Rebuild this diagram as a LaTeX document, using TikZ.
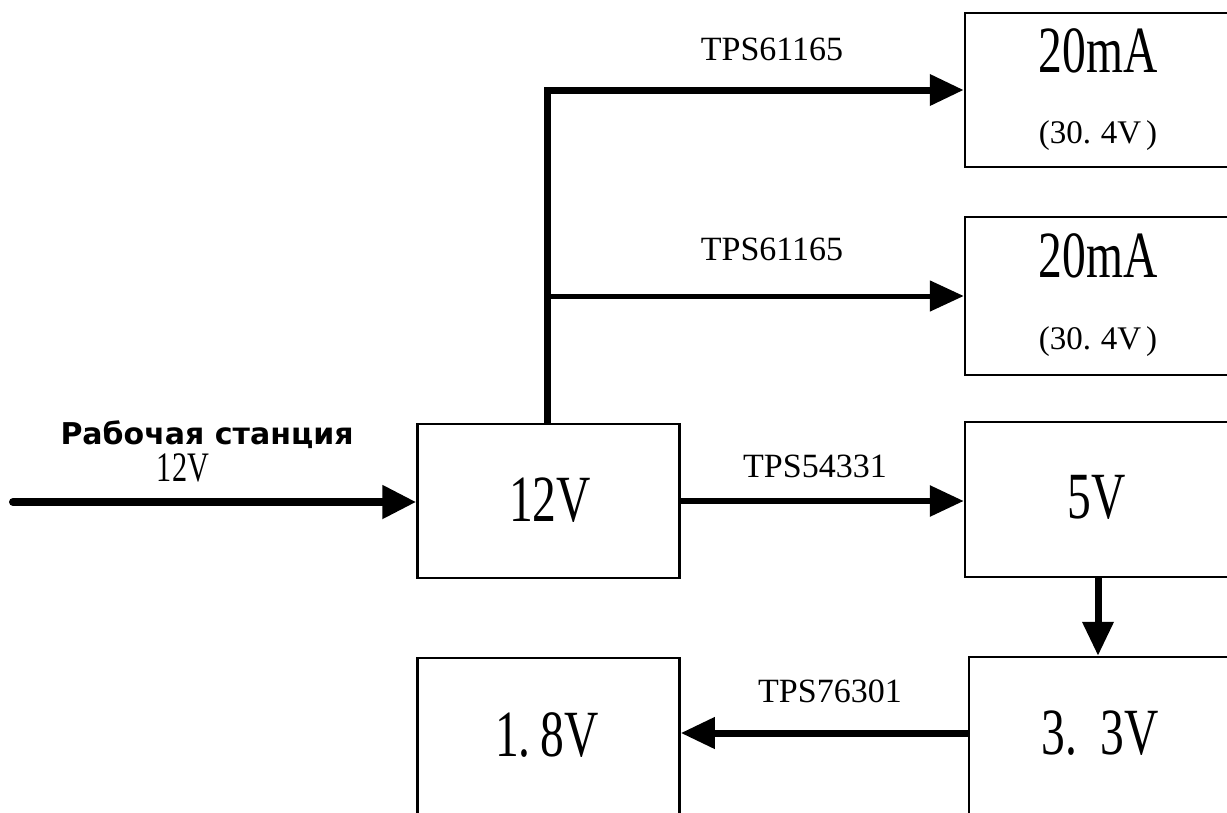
\documentclass[tikz,border=0pt]{standalone}
\usepackage{fontspec}
\setmainfont{Liberation Serif}
\newfontfamily\boxfont[FakeStretch=0.72]{Liberation Serif}
\newfontfamily\stationfont{DejaVu Sans}
\usetikzlibrary{arrows.meta}

\begin{document}
\begin{tikzpicture}[x=1pt,y=-1pt,
  block/.style={draw,line width=2.5pt,minimum width=262pt,minimum height=154pt,inner sep=0pt},
  big/.style={font=\boxfont\fontsize{66}{66}\selectfont,inner sep=0pt},
  feed/.style={line width=7pt,-{Triangle[length=34pt,width=30pt]}},
  chip/.style={font=\fontsize{34}{34}\selectfont,inner sep=0pt}]
\useasboundingbox (0,0) rectangle (1227,812);
\clip (0,0) rectangle (1227,812);

% blocks
\node[block] (v12) at (548.5,501) {};
\node[big] (v12t) at (550,500) {12V};
\node[block,minimum width=266pt] (ma1) at (1098,90) {};
\node[big] (ma1a) at ([yshift=39pt]ma1.center) {20mA};
\node[font=\fontsize{33}{33}\selectfont] (ma1b) at ([yshift=-46pt]ma1.center) {(30.\hspace{0.3em}4V\hspace{0.15em})};
\node[block,minimum width=266pt,minimum height=158pt] (ma2) at (1098,296) {};
\node[big] (ma2a) at ([yshift=40pt]ma2.center) {20mA};
\node[font=\fontsize{33}{33}\selectfont] (ma2b) at ([yshift=-46pt]ma2.center) {(30.\hspace{0.3em}4V\hspace{0.15em})};
\node[block,minimum width=266pt,minimum height=155pt] (v5) at (1098,499.5) {};
\node[big] (v5t) at (1097,497) {5V};
\node[block,minimum height=176pt] (v33) at (1100,745) {};
\node[big] (v33t) at (1100,733) {3.\hspace{0.35em}3V};
\node[block,minimum height=176pt] (v18) at (548.5,746) {};
\node[big] (v18t) at (547,735) {1.\hspace{0.15em}8V};

% input
\coordinate (src) at (13,502);
\node[font=\stationfont\bfseries\fontsize{30}{30}\selectfont,inner sep=0pt] (ws) at (207,435) {Рабочая станция};
\node[font=\boxfont\fontsize{42}{42}\selectfont,inner sep=0pt] (ws12) at (183,468) {12V};
\draw[line width=8pt,line cap=round,-{Triangle[length=34pt,width=32pt]}] (src) -- (src -| v12.west);

% converters
\coordinate (trunk) at ([xshift=-1.5pt]v12.north);
\draw[feed] (trunk) |- (ma1.west);
\draw[feed,line width=5pt] (trunk |- ma2.west) -- (ma2.west);
\draw[feed,line width=6pt] (v12.east) -- (v12.east -| v5.west);
\draw[feed] (v5.south) -- (v5.south |- v33.north);
\draw[feed] (v33t -| v33.west) -- (v33t -| v18.east);

\node[chip] (c1) at (772,49) {TPS61165};
\node[chip] (c2) at (772,249) {TPS61165};
\node[chip] (c3) at (815,466) {TPS54331};
\node[chip] (c4) at (830,691) {TPS76301};
\end{tikzpicture}
\end{document}
